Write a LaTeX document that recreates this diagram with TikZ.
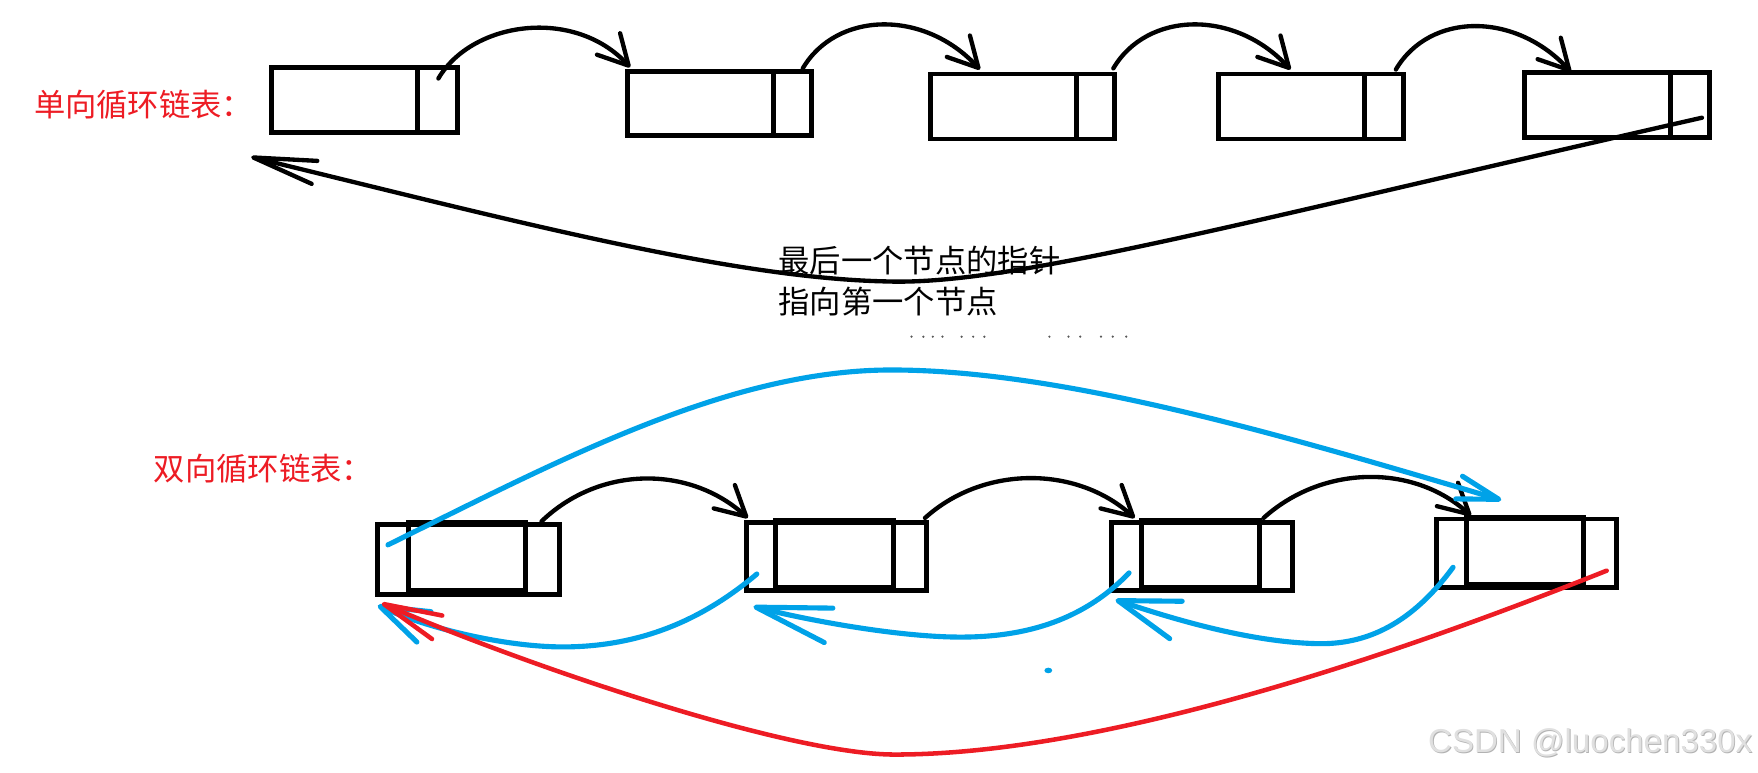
\documentclass[tikz,border=0pt]{standalone}
\usepackage{fontspec}
\setmainfont{Liberation Sans}
\newfontfamily\cjk{Noto Sans CJK SC}
\usetikzlibrary{arrows.meta}
\definecolor{pRed}{HTML}{ED1C24}
\definecolor{pBlue}{HTML}{00A2E8}
\tikzset{
  cell/.style={draw=black, line width=2.5pt, inner sep=0pt, rectangle},
  divline/.style={draw=black, line width=2.5pt},
  blk/.style={draw=black, line width=2.2pt, line cap=round, line join=round},
  blu/.style={draw=pBlue, line width=2.6pt, line cap=round, line join=round},
  rdl/.style={draw=pRed, line width=2.3pt, line cap=round, line join=round},
  headS/.style={-{Straight Barb[length=15pt,width=16pt,round]}},
  lab/.style={inner sep=0pt, anchor=west, text=pRed, font=\cjk\fontsize{15.9pt}{18pt}\selectfont},
  note/.style={inner sep=0pt, anchor=west, text=black, font=\cjk\fontsize{15.9pt}{18pt}\selectfont},
  wm/.style={inner sep=0pt, anchor=base west, font=\fontsize{16.8pt}{19pt}\selectfont},
}
\begin{document}
\begin{tikzpicture}[x=0.02cm, y=-0.02cm]
\useasboundingbox (0,0) rectangle (1568,688.6);

% ---------- single circular list ----------
\node[lab] (L1) at (30,93) {单向循环链表：};

\node[cell, minimum width=3.32cm, minimum height=1.16cm] (T1) at (325,89) {};
\node[cell, minimum width=3.28cm, minimum height=1.14cm] (T2) at (642,92.5) {};
\node[cell, minimum width=3.28cm, minimum height=1.16cm] (T3) at (912,95) {};
\node[cell, minimum width=3.30cm, minimum height=1.16cm] (T4) at (1169.5,95) {};
\node[cell, minimum width=3.30cm, minimum height=1.16cm] (T5) at (1442.5,93.5) {};
\draw[divline] (372,60) -- (372,118);
\draw[divline] (690,64) -- (690,121);
\draw[divline] (960,66) -- (960,124);
\draw[divline] (1217,66) -- (1217,124);
\draw[divline] (1490,64.5) -- (1490,122.5);

\coordinate (a1s) at (391,70);   \coordinate (a1e) at (562,60);
\coordinate (a2s) at (716,61);   \coordinate (a2e) at (874,62);
\coordinate (a3s) at (993,61);   \coordinate (a3e) at (1151,62);
\coordinate (a4s) at (1245,62);  \coordinate (a4e) at (1401,64);
\draw[blk, headS] (a1s) .. controls (421,19) and (512,6) .. (a1e);
\draw[blk, headS] (a2s) .. controls (746,10) and (824,8) .. (a2e);
\draw[blk, headS] (a3s) .. controls (1023,10) and (1101,8) .. (a3e);
\draw[blk, headS] (a4s) .. controls (1275,11) and (1351,10) .. (a4e);

\coordinate (r1s) at (1518,105); \coordinate (r1m) at (790,251); \coordinate (r1e) at (224,140);
\draw[blk, -{Straight Barb[length=32pt,width=12pt,round]}]
  (r1s) .. controls (1100,200) and (900,255) .. (r1m)
        .. controls (650,248) and (450,195) .. (r1e);

\node[note] (N1) at (694,232) {最后一个节点的指针};
\node[note] (N2) at (694,269) {指向第一个节点};
\foreach \x in {813,823.6,832,840.6,857.7,868,878,936,953,963.5,982,992.5,1004.5}
  \fill[black!65] (\x,300.3) circle [radius=0.022cm];

% ---------- double circular list ----------
\node[lab] (L2) at (137,418) {双向循环链表：};

\node[cell, minimum width=3.24cm, minimum height=1.24cm] (B1) at (418,499) {};
\node[cell, minimum width=3.22cm, minimum height=1.22cm] (B2) at (746,496.4) {};
\node[cell, minimum width=3.22cm, minimum height=1.22cm] (B3) at (1072,496.5) {};
\node[cell, minimum width=3.22cm, minimum height=1.22cm] (B4) at (1361.5,493.4) {};
\draw[divline] (364.5,466) rectangle (469,527);
\draw[divline] (692,464) rectangle (797,524);
\draw[divline] (1018,464.5) rectangle (1123.5,524);
\draw[divline] (1308,461.5) rectangle (1412.7,521);

% next pointers
\coordinate (b1s) at (483,465);  \coordinate (b1e) at (667,462);
\coordinate (b2s) at (825,462);  \coordinate (b2e) at (1012,462);
\coordinate (b3s) at (1127,462); \coordinate (b3e) at (1312,460);
\draw[blk, headS] (b1s) .. controls (535,415) and (615,415) .. (b1e);
\draw[blk, headS] (b2s) .. controls (877,415) and (960,415) .. (b2e);
\draw[blk, headS] (b3s) .. controls (1179,415) and (1260,413) .. (b3e);

% head -> last (blue, over the top)
\coordinate (u1s) at (346,486); \coordinate (u1m) at (795,330); \coordinate (u1e) at (1339,446);
\draw[blu, -{Straight Barb[length=21pt,width=12pt,round]}]
  (u1s) .. controls (500,410) and (650,330) .. (u1m)
        .. controls (950,330) and (1150,390) .. (u1e);

% prev pointers (blue)
\coordinate (p1s) at (675,512);  \coordinate (p1m) at (502,577);  \coordinate (p1e) at (337,540);
\coordinate (p2s) at (1007,511); \coordinate (p2m) at (844,568);  \coordinate (p2e) at (672,541);
\coordinate (p3s) at (1296,506); \coordinate (p3m) at (1172,574); \coordinate (p3e) at (995,535);
\draw[blu, -{Straight Barb[length=24.5pt,width=17pt,round]}]
  (p1s) .. controls (630,550) and (575,577) .. (p1m)
        .. controls (450,577) and (380,560) .. (p1e);
\draw[blu, -{Straight Barb[length=38pt,width=18pt,round]}]
  (p2s) .. controls (960,560) and (900,570) .. (p2m)
        .. controls (790,566) and (720,553) .. (p2e);
\draw[blu, -{Straight Barb[length=31pt,width=20pt,round]}]
  (p3s) .. controls (1260,555) and (1220,576) .. (p3m)
        .. controls (1110,572) and (1040,550) .. (p3e);

% last -> head (red)
\coordinate (q1s) at (1433,509); \coordinate (q1m) at (798,673); \coordinate (q1e) at (340.5,538);
\draw[rdl, -{Straight Barb[length=29.5pt,width=13pt,round]}]
  (q1s) .. controls (1280,570) and (1000,673) .. (q1m)
        .. controls (700,673) and (460,590) .. (q1e);

\fill[pBlue] (935,598) ellipse [x radius=0.07cm, y radius=0.05cm];

% watermark
\node[wm, text=black!30] (W0) at (1274.2,672.4) {CSDN @luochen330x};
\node[wm, text=black!12] (W1) at (1273.4,671.6) {CSDN @luochen330x};
\end{tikzpicture}
\end{document}
